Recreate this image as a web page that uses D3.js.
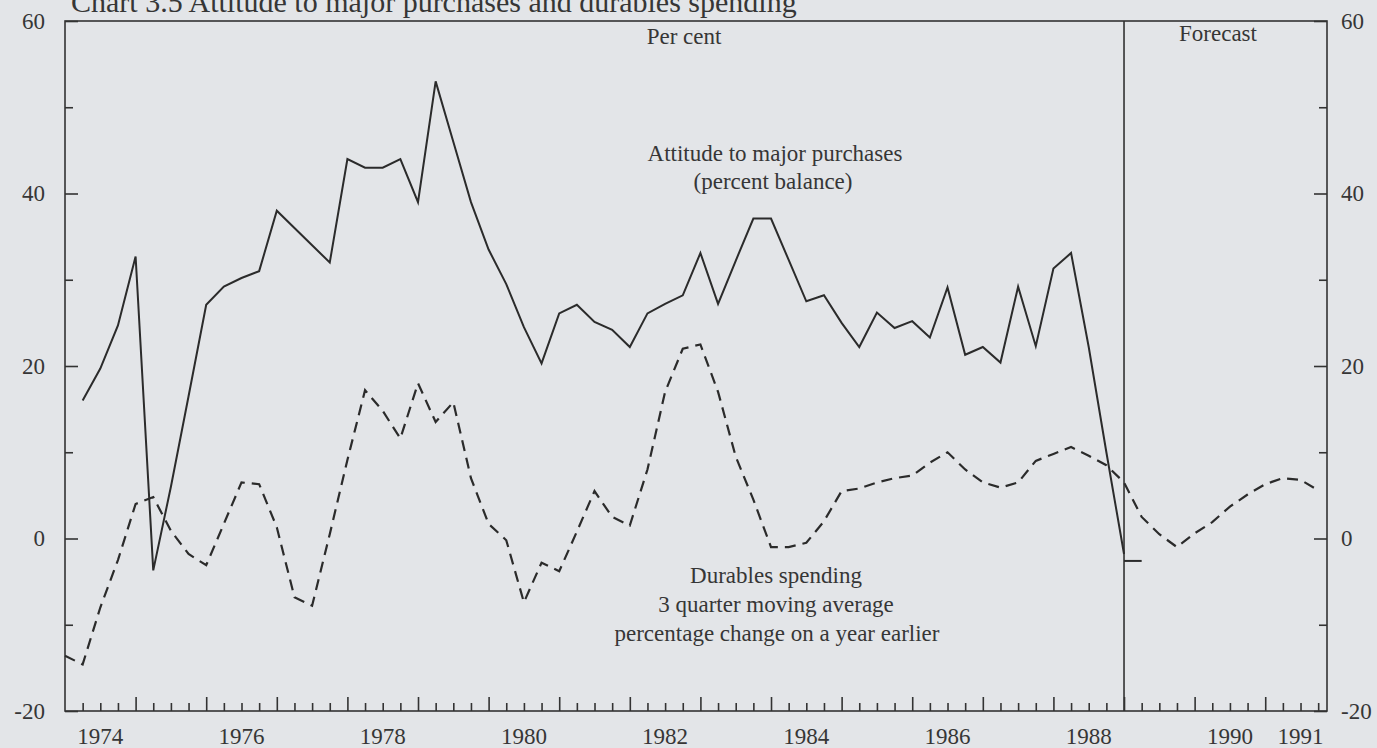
<!DOCTYPE html>
<html>
<head>
<meta charset="utf-8">
<script src="https://cdn.jsdelivr.net/npm/d3@7"></script>
<style>
  body { margin: 0; background: #e3e5e8; }
  svg { display: block; }
  text { font-family: "Liberation Serif", "DejaVu Serif", serif; fill: #363636; }
</style>
</head>
<body>
<div id="chart"></div>
<script>

      // attitude to major purchases, quarterly from 1974 Q2 to 1989 Q1 (percent balance)
      var attitudeStart = 1974.25;
      var attitude = [16.0, 19.7, 24.7, 32.7, -3.7, 6.0, 16.5, 27.1,
                      29.2, 30.2, 31.0, 38.0, 36.0, 34.0, 32.0, 44.0,
                      43.0, 43.0, 44.0, 39.0, 53.0, 46.0, 39.0, 33.5,
                      29.5, 24.5, 20.3, 26.1, 27.1, 25.1, 24.2, 22.2,
                      26.1, 27.2, 28.2, 33.1, 27.2, 32.2, 37.1, 37.1,
                      32.3, 27.5, 28.2, 25.0, 22.2, 26.2, 24.4, 25.2,
                      23.3, 29.1, 21.3, 22.2, 20.4, 29.2, 22.3, 31.3,
                      33.1, 22.2, 10.0, -1.8];

      // forecast mark for attitude (one quarter)
      var attitudeForecast = [{t: 1989.0, v: -2.6}, {t: 1989.25, v: -2.6}];

      // durables spending, 3 quarter moving average, % change on a year earlier
      var durablesStart = 1974.0;
      var durables = [-13.6, -14.6, -8.0, -2.5, 4.0, 4.8, 0.9, -1.8,
                      -3.1, 1.7, 6.5, 6.3, 1.3, -6.8, -7.8, 0.5,
                      9.1, 17.2, 14.8, 11.6, 18.0, 13.5, 15.8, 7.0,
                      1.7, -0.2, -7.4, -2.8, -3.8, 0.8, 5.5, 2.5,
                      1.5, 8.0, 17.0, 22.0, 22.5, 17.0, 9.5, 4.5,
                      -1.0, -1.0, -0.5, 2.0, 5.5, 5.8, 6.5, 7.0,
                      7.3, 8.8, 10.0, 8.0, 6.5, 5.9, 6.5, 9.0,
                      9.8, 10.6, 9.6, 8.5, 6.5, 2.5, 0.5, -1.0,
                      0.6, 1.9, 3.7, 5.1, 6.3, 7.0, 6.8, 5.6];

      var yMajor = [-20, 0, 20, 40, 60];
      var yMinor = [-10, 10, 30, 50];
      var yearLabels = [1974, 1976, 1978, 1980, 1982, 1984, 1986, 1988, 1990, 1991];
      var forecastStart = 1989.0;

      var width = 1377,
          height = 748;

      var svg = d3.select("#chart").append("svg")
                .attr("width", width)
                .attr("height", height);

      ////// Define Scales /////////////////
      var xScale = d3.scaleLinear()
          .domain([1974, 1991.875])
          .range([65, 1327]);
      var yScale = d3.scaleLinear()
          .domain([-20, 60])
          .range([711, 21]);

      var quarters = d3.range(1974.25, 1991.8, 0.25).filter(function(d) { return d % 1 !== 0; });
      var years = d3.range(1975, 1992);

      // title (cut off at the top of the scan)
      svg.append("text")
          .attr("x", 71)
          .attr("y", 12)
          .style("font-size", "30px")
          .text("Chart 3.5  Attitude to major purchases and durables spending");

      /////// Axes //////////////////////////////
      function styleAxis(g) {
        g.select(".domain").remove();
        g.selectAll("line").attr("stroke", "#333").attr("stroke-width", 1.6);
        g.selectAll("text").attr("font-family", null).attr("font-size", null)
          .style("font-size", "23px").attr("fill", "#363636");
      }

      svg.append("g")
          .attr("transform", "translate(" + xScale.range()[0] + ",0)")
          .call(d3.axisLeft(yScale).tickValues(yMajor).tickSize(-13).tickPadding(20).tickFormat(String))
          .call(styleAxis);
      svg.append("g")
          .attr("transform", "translate(" + xScale.range()[0] + ",0)")
          .call(d3.axisLeft(yScale).tickValues(yMinor).tickSize(-8).tickFormat(""))
          .call(styleAxis);

      svg.append("g")
          .attr("transform", "translate(" + xScale.range()[1] + ",0)")
          .call(d3.axisRight(yScale).tickValues(yMajor).tickSize(-13).tickPadding(14).tickFormat(String))
          .call(styleAxis);
      svg.append("g")
          .attr("transform", "translate(" + xScale.range()[1] + ",0)")
          .call(d3.axisRight(yScale).tickValues(yMinor).tickSize(-8).tickFormat(""))
          .call(styleAxis);

      svg.append("g")
          .attr("transform", "translate(0," + yScale(-20) + ")")
          .call(d3.axisBottom(xScale).tickValues(quarters).tickSize(-8).tickFormat(""))
          .call(styleAxis);
      svg.append("g")
          .attr("transform", "translate(0," + yScale(-20) + ")")
          .call(d3.axisBottom(xScale).tickValues(years).tickSize(-14).tickFormat(""))
          .call(styleAxis);

      // year labels sit in the middle of the year
      svg.append("g")
          .selectAll("text")
          .data(yearLabels)
          .enter()
          .append("text")
          .attr("x", function(d) { return xScale(d + 0.5); })
          .attr("y", 744)
          .attr("text-anchor", "middle")
          .style("font-size", "23px")
          .text(function(d) { return d; });

      // frame
      svg.append("rect")
          .attr("x", xScale(1974))
          .attr("y", yScale(60))
          .attr("width", xScale(1991.875) - xScale(1974))
          .attr("height", yScale(-20) - yScale(60))
          .attr("fill", "none")
          .attr("stroke", "#333")
          .attr("stroke-width", 1.6);

      // forecast divider
      svg.append("line")
          .attr("x1", xScale(forecastStart))
          .attr("x2", xScale(forecastStart))
          .attr("y1", yScale(60))
          .attr("y2", yScale(-20))
          .attr("stroke", "#333")
          .attr("stroke-width", 1.6);

      /////// Lines //////////////////////////////
      var line = d3.line()
          .x(function(d) { return xScale(d.t); })
          .y(function(d) { return yScale(d.v); });

      var attitudeData = attitude.map(function(v, i) { return {t: attitudeStart + i * 0.25, v: v}; });
      var durablesData = durables.map(function(v, i) { return {t: durablesStart + i * 0.25, v: v}; });

      svg.append("path")
          .datum(durablesData)
          .attr("d", line)
          .attr("fill", "none")
          .attr("stroke", "#2b2b2b")
          .attr("stroke-width", 2.2)
          .attr("stroke-dasharray", "11,7");

      svg.append("path")
          .datum(attitudeData)
          .attr("d", line)
          .attr("fill", "none")
          .attr("stroke", "#2b2b2b")
          .attr("stroke-width", 2);

      svg.append("path")
          .datum(attitudeForecast)
          .attr("d", line)
          .attr("fill", "none")
          .attr("stroke", "#2b2b2b")
          .attr("stroke-width", 2);

      /////// Labels //////////////////////////////
      function label(x, y, txt) {
        svg.append("text")
            .attr("x", x)
            .attr("y", y)
            .attr("text-anchor", "middle")
            .style("font-size", "23px")
            .text(txt);
      }

      label(684, 44, "Per cent");
      label(1218, 41, "Forecast");
      label(775, 161, "Attitude to major purchases");
      label(773, 189, "(percent balance)");
      label(776, 583, "Durables spending");
      label(776, 612, "3 quarter moving average");
      label(777, 641, "percentage change on a year earlier");

</script>
</body>
</html>
